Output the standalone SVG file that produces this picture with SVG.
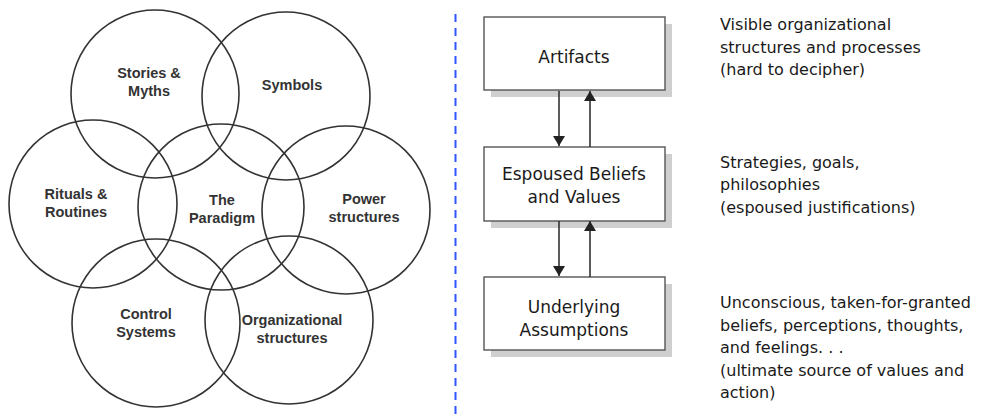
<svg xmlns="http://www.w3.org/2000/svg" width="996" height="419" viewBox="0 0 996 419">
<style>
.c{fill:none;stroke:#333;stroke-width:1.6}
.lb{font-family:"Liberation Sans",Arial,sans-serif;font-weight:bold;font-size:14.5px;fill:#333;text-anchor:middle}
.box{fill:#fff;stroke:#555;stroke-width:1.4}
.sh{fill:#cfcfcf}
.hw{font-family:"DejaVu Sans",sans-serif;font-size:16px;fill:#1a1a1a}
.bt{text-anchor:middle;font-size:17px}
.ar{stroke:#333;stroke-width:1.6;fill:none}
</style>
<defs>
<marker id="ah" viewBox="0 0 10 12" refX="10" refY="6" markerWidth="10" markerHeight="12" markerUnits="userSpaceOnUse" orient="auto">
<path d="M0,0 L10,6 L0,12 z" fill="#222"/>
</marker>
</defs>
<rect width="996" height="419" fill="#fff"/>

<g id="stories"><circle class="c" cx="155" cy="94" r="84"/><text class="lb" x="149" y="78">Stories &amp;</text><text class="lb" x="149" y="95.5">Myths</text></g>
<g id="symbols"><circle class="c" cx="286" cy="96" r="84"/><text class="lb" x="292" y="90">Symbols</text></g>
<g id="rituals"><circle class="c" cx="93" cy="204" r="84"/><text class="lb" x="76" y="199">Rituals &amp;</text><text class="lb" x="76" y="216.5">Routines</text></g>
<g id="paradigm"><circle class="c" cx="221" cy="207" r="83"/><text class="lb" x="222" y="205">The</text><text class="lb" x="222" y="222.5">Paradigm</text></g>
<g id="power"><circle class="c" cx="346" cy="210" r="84"/><text class="lb" x="364" y="204">Power</text><text class="lb" x="364" y="221.5">structures</text></g>
<g id="control"><circle class="c" cx="156" cy="323" r="84"/><text class="lb" x="146" y="319">Control</text><text class="lb" x="146" y="336.5">Systems</text></g>
<g id="orgstruct"><circle class="c" cx="289" cy="320" r="84"/><text class="lb" x="292" y="325">Organizational</text><text class="lb" x="292" y="342.5">structures</text></g>

<line x1="455.5" y1="14" x2="455.5" y2="419" stroke="#2f55ff" stroke-width="2" stroke-dasharray="8 6"/>

<g id="artifacts"><rect class="sh" x="491" y="24" width="181" height="73"/><rect class="box" x="484" y="17" width="181" height="73"/><text class="hw bt" x="574" y="63">Artifacts</text></g>
<g id="espoused"><rect class="sh" x="491" y="154" width="181" height="74"/><rect class="box" x="484" y="147" width="181" height="74"/><text class="hw bt" x="574" y="180">Espoused Beliefs</text><text class="hw bt" x="574" y="203">and Values</text></g>
<g id="underlying"><rect class="sh" x="491" y="284" width="181" height="73"/><rect class="box" x="484" y="277" width="181" height="73"/><text class="hw bt" x="574" y="313">Underlying</text><text class="hw bt" x="574" y="336">Assumptions</text></g>

<g id="connectors">
<line class="ar" x1="559" y1="91" x2="559" y2="146" marker-end="url(#ah)"/>
<line class="ar" x1="590" y1="147" x2="590" y2="91" marker-end="url(#ah)"/>
<line class="ar" x1="559" y1="221" x2="559" y2="276" marker-end="url(#ah)"/>
<line class="ar" x1="590" y1="277" x2="590" y2="221" marker-end="url(#ah)"/>
</g>

<g id="desc">
<text class="hw" x="720" y="30">Visible organizational</text>
<text class="hw" x="720" y="53">structures and processes</text>
<text class="hw" x="720" y="75">(hard to decipher)</text>
<text class="hw" x="720" y="168">Strategies, goals,</text>
<text class="hw" x="720" y="190">philosophies</text>
<text class="hw" x="720" y="213">(espoused justifications)</text>
<text class="hw" x="720" y="308">Unconscious, taken-for-granted</text>
<text class="hw" x="720" y="331">beliefs, perceptions, thoughts,</text>
<text class="hw" x="720" y="353">and feelings. . .</text>
<text class="hw" x="720" y="376">(ultimate source of values and</text>
<text class="hw" x="720" y="398">action)</text>
</g>
</svg>
